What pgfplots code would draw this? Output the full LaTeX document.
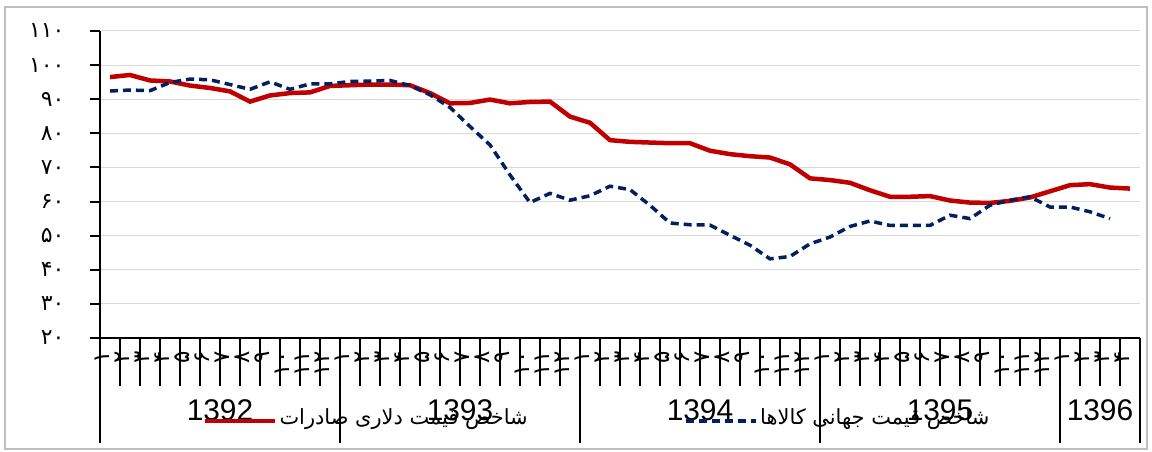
\documentclass[border=0pt]{standalone}
\usepackage{fontspec}
\setmainfont{Liberation Sans}
\newfontfamily\arabicfont[Script=Arabic]{DejaVu Sans}
\usepackage{pgfplots}
\pgfplotsset{compat=1.18}
\TeXXeTstate=1
\definecolor{myred}{HTML}{C00000}
\definecolor{myblue}{HTML}{002060}
\definecolor{gridgray}{HTML}{D9D9D9}
\begin{document}
\begin{tikzpicture}[x=1bp,y=1bp]
\useasboundingbox (0,0) rectangle (1152,452);
\draw[gray!50, line width=1.5bp] (5,3) rectangle (1147,445);
\begin{axis}[
  at={(100bp,114bp)}, anchor=south west,
  scale only axis, width=1040bp, height=307bp,
  xmin=-0.5, xmax=51.5, ymin=20, ymax=110,
  clip=false,
  axis lines*=left,
  tick align=outside,
  x axis line style={black, line width=2bp},
  y axis line style={black, line width=2.5bp},
  ytick={20,30,...,110},
  yticklabels={۲۰,۳۰,۴۰,۵۰,۶۰,۷۰,۸۰,۹۰,۱۰۰,۱۱۰},
  ymajorgrids, grid style={gridgray, line width=1bp},
  major tick length=10bp,
  ytick style={black, line width=2bp},
  yticklabel style={font=\arabicfont\fontsize{22}{22}\selectfont, xshift=-22bp},
  xtick={0,...,51},
  xticklabels={۱,۲,۳,۴,۵,۶,۷,۸,۹,۱۰,۱۱,۱۲,۱,۲,۳,۴,۵,۶,۷,۸,۹,۱۰,۱۱,۱۲,۱,۲,۳,۴,۵,۶,۷,۸,۹,۱۰,۱۱,۱۲,۱,۲,۳,۴,۵,۶,۷,۸,۹,۱۰,۱۱,۱۲,۱,۲,۳,۴},
  major x tick style={draw=none},
  minor xtick={-0.5,0.5,...,51.5},
  minor x tick style={black, line width=1.5bp},
  minor tick length=48bp,
  extra x ticks={-0.5,11.5,23.5,35.5,47.5,51.5},
  extra x tick labels={},
  extra x tick style={major tick length=105bp, major x tick style={draw=black, line width=1.5bp}},
  xticklabel style={rotate=90, anchor=east, font=\arabicfont\fontsize{23}{23}\selectfont, yshift=8bp},
  legend columns=2,
  legend style={at={(0.096,0)}, anchor=north west, yshift=-66bp, draw=none, fill=none,
    font=\arabicfont\fontsize{21}{24}\selectfont,
    /tikz/every even column/.append style={column sep=155bp}},
  legend image code/.code={\draw[#1] (0bp,-4bp) -- (70bp,-4bp);},
]
\addplot[myred, line width=4.5bp] coordinates {
(0,96.5) (1,97.1) (2,95.5) (3,95.2) (4,94.0) (5,93.3) (6,92.3) (7,89.3) (8,91.1) (9,91.8) (10,92.0) (11,93.9)
(12,94.1) (13,94.3) (14,94.3) (15,94.1) (16,91.8) (17,88.8) (18,88.9) (19,89.9) (20,88.8) (21,89.2) (22,89.3) (23,84.9)
(24,83.1) (25,78.0) (26,77.5) (27,77.3) (28,77.1) (29,77.1) (30,74.9) (31,73.9) (32,73.3) (33,72.9) (34,70.9) (35,66.8)
(36,66.3) (37,65.5) (38,63.3) (39,61.4) (40,61.4) (41,61.6) (42,60.3) (43,59.7) (44,59.6) (45,60.2) (46,61.2) (47,63.0)
(48,64.8) (49,65.1) (50,64.1) (51,63.8)
};
\addlegendentry{\beginR شاخص قیمت دلاری صادرات\endR}
\addplot[myblue, line width=3.5bp, dash pattern=on 8bp off 5bp] coordinates {
(0,92.4) (1,92.7) (2,92.5) (3,94.9) (4,95.9) (5,95.7) (6,94.3) (7,92.9) (8,95.1) (9,92.9) (10,94.5) (11,94.5)
(12,95.2) (13,95.3) (14,95.5) (15,94.0) (16,91.3) (17,87.6) (18,82.0) (19,76.6) (20,67.8) (21,59.7) (22,62.4) (23,60.4)
(24,61.7) (25,64.5) (26,63.5) (27,58.9) (28,53.7) (29,53.2) (30,53.1) (31,50.1) (32,47.2) (33,43.2) (34,43.9) (35,47.6)
(36,49.6) (37,52.7) (38,54.3) (39,53.0) (40,53.0) (41,53.0) (42,56.0) (43,55.0) (44,58.9) (45,60.4) (46,61.4) (47,58.4)
(48,58.4) (49,57.0) (50,55.0)
};
\addlegendentry{\beginR شاخص قیمت جهانی کالاها\endR}
\node[font=\fontsize{30}{30}\selectfont, yshift=-72bp] at (axis cs:5.5,20) {1392};
\node[font=\fontsize{30}{30}\selectfont, yshift=-72bp] at (axis cs:17.5,20) {1393};
\node[font=\fontsize{30}{30}\selectfont, yshift=-72bp] at (axis cs:29.5,20) {1394};
\node[font=\fontsize{30}{30}\selectfont, yshift=-72bp] at (axis cs:41.5,20) {1395};
\node[font=\fontsize{30}{30}\selectfont, yshift=-72bp] at (axis cs:49.5,20) {1396};
\end{axis}
\end{tikzpicture}
\end{document}
